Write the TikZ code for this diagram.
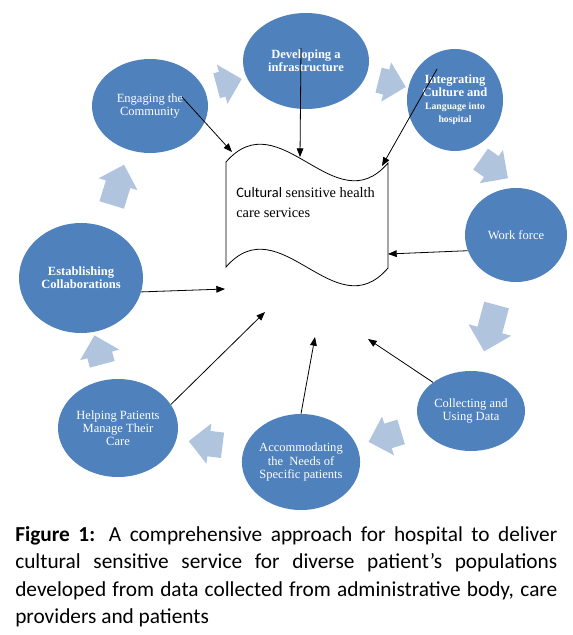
\documentclass[tikz,border=0pt]{standalone}
\usepackage{fontspec}
\setmainfont{Liberation Serif}
\newfontfamily\capfont{Carlito}
\usepackage{tikz}
\usetikzlibrary{positioning,arrows.meta,shapes.geometric,shapes.arrows}
\definecolor{stageBlue}{HTML}{4F81BD}
\definecolor{flowBlue}{HTML}{B0C4DE}

\tikzset{
  stage/.style={ellipse,fill=stageBlue,text=white,inner sep=0pt,align=center,
    font=\fontsize{9.4}{9.8}\selectfont},
  flow/.style={single arrow,fill=flowBlue,inner xsep=0pt,inner ysep=9.4pt,
    single arrow head extend=5.6pt},
  link/.style={-{Triangle[length=6.5pt,width=5pt]},line width=0.6pt}
}

\begin{document}
\begin{tikzpicture}[x=0.75pt,y=-0.75pt]
  \useasboundingbox (0,0) rectangle (572,635);

  % central wave
  \draw[line width=0.6pt,fill=white] (226,162) .. controls (280,100) and (335,225) .. (388,163)
    -- (388,268) .. controls (335,330) and (280,205) .. (226,267) -- cycle;
  \node[anchor=north west,align=left,inner sep=0pt,font=\fontsize{10.8}{15}\selectfont]
    (hub) at (236,187) {{\capfont Cultural} sensitive health\\care services};

  % stages
  \node[stage,minimum width=94.5pt,minimum height=72pt] (dev) at (306,61)
    {\textbf{Developing a}\\\textbf{infrastructure}};
  \node[stage,minimum width=72pt,minimum height=76.5pt] (integ) at (455,100)
    {\textbf{Integrating}\\\textbf{Culture and}\\{\fontsize{7.3}{7.6}\selectfont\textbf{Language into}}\\{\fontsize{7.3}{7.6}\selectfont\textbf{hospital}}};
  \node[stage,minimum width=76.5pt,minimum height=70.5pt] (work) at (516,235) {Work force};
  \node[stage,minimum width=81pt,minimum height=60pt] (data) at (471,411)
    {Collecting and\\Using Data};
  \node[stage,minimum width=88.5pt,minimum height=72pt] (accom) at (301,462)
    {Accommodating\\the\ \ Needs of\\Specific patients};
  \node[stage,minimum width=90pt,minimum height=73.5pt] (help) at (118,428)
    {Helping Patients\\Manage Their\\Care};
  \node[stage,minimum width=93pt,minimum height=82.5pt] (collab) at (81,278)
    {\textbf{Establishing}\\\textbf{Collaborations}};
  \node[stage,minimum width=87pt,minimum height=70.5pt] (engage) at (150,106)
    {Engaging the\\Community};

  % cycle arrows
  \node[flow,rotate=15,minimum height=19.5pt] (f1) at (223,84) {};
  \node[flow,rotate=-14,minimum height=21pt] (f2) at (386,82) {};
  \node[flow,rotate=-35,minimum height=25pt] (f3) at (489,165) {};
  \node[flow,rotate=-105,minimum height=36pt,single arrow head extend=7pt] (f4) at (492,322) {};
  \node[flow,rotate=-163,minimum height=25.5pt] (f5) at (391,435) {};
  \node[flow,rotate=173,minimum height=25.5pt] (f6) at (212,444) {};
  \node[flow,rotate=105,minimum height=22.5pt] (f7) at (100,356) {};
  \node[flow,rotate=73,minimum height=31.5pt] (f8) at (116,191) {};

  % free ends near the wave
  \coordinate (engEnd) at (232,152);
  \coordinate (devEnd) at (300,157);
  \coordinate (integEnd) at (382,166);
  \coordinate (workEnd) at (388,254);
  \coordinate (collabEnd) at (225,289);
  \coordinate (helpEnd) at (265,312);
  \coordinate (accomEnd) at (315,337);
  \coordinate (dataEnd) at (368,339);

  \draw[link] ([shift={(32,-9)}]engage.center) -- (engEnd);
  \draw[link] ([shift={(-5,-13)}]dev.center) -- (devEnd);
  \draw[link] ([shift={(-18,-31)}]integ.center) -- (integEnd);
  \draw[link] (work.198) -- (workEnd);
  \draw[link] (collab.-13) -- (collabEnd);
  \draw[link] (help.24) -- (helpEnd);
  \draw[link] (accom.north) -- (accomEnd);
  \draw[link] (data.143) -- (dataEnd);

  % caption
  \node[anchor=north west,inner sep=0pt,text width=406.5pt,align=justify,
        font=\capfont\fontsize{16}{20.6}\selectfont] (caption) at (15,526)
    {\textbf{Figure 1:} A comprehensive approach for hospital to deliver\linebreak
     cultural sensitive service for diverse patient’s populations\linebreak
     developed from data collected from administrative body, care\linebreak
     providers and patients};
\end{tikzpicture}
\end{document}
